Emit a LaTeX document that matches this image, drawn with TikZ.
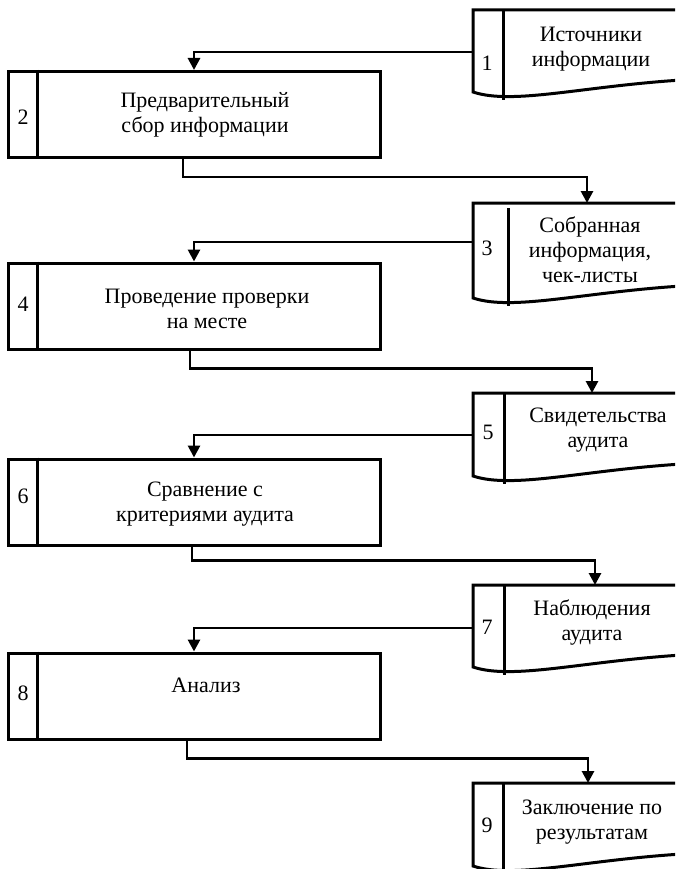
\documentclass[tikz,border=0pt]{standalone}
\usepackage{fontspec}
\setmainfont{Liberation Serif}
\usetikzlibrary{arrows.meta}

% Document symbol: #1 top, #2 height of left side, #3 x of the inner rule, #4 gap above the inner rule
\newcommand\DocShape[4]{%
  \draw[docline] (700,#1) -- (473,#1) -- (473,#1+#2)
    .. controls (515,#1+#2+14) and (590,#1+#2-8) .. (700,#1+#2-13);
  \draw[docline] (#3,#1+#4) -- (#3,#1+#2+8);
}

\begin{document}
\begin{tikzpicture}[x=1pt,y=-1pt,
  docline/.style={line width=3pt, line join=miter},
  procbox/.style={draw, rectangle, line width=3pt, minimum width=372pt,
    minimum height=86pt, inner sep=0pt},
  txt/.style={font=\fontsize{22}{25}\selectfont, align=center, inner sep=0pt},
  num/.style={font=\fontsize{22}{25}\selectfont, inner sep=0pt},
  conn/.style={line width=2.8pt, -{Triangle[length=12pt,width=12pt]}}]
\useasboundingbox (0,0) rectangle (675,869);
\clip (0,0) rectangle (675,869);

% process boxes
\node[procbox] (b2) at (194,114.5) {};
\node[procbox] (b4) at (194,306) {};
\node[procbox] (b6) at (194,502) {};
\node[procbox] (b8) at (194,696) {};
\foreach \b in {b2,b4,b6,b8}
  \draw[docline] ([xshift=31pt]\b.north west) -- ([xshift=31pt]\b.south west);

\node[num] (n2) at (23,117) {2};
\node[num] (n4) at (23,304) {4};
\node[num] (n6) at (23,496) {6};
\node[num] (n8) at (23,693) {8};

\node[txt] (t2) at (205,115) {Предварительный\\сбор информации};
\node[txt] (t4) at (207,309) {Проведение проверки\\на месте};
\node[txt] (t6) at (205,504) {Сравнение с\\критериями аудита};
\node[txt] (t8) at (206,685) {Анализ};

% documents
\DocShape{10}{82}{503}{0}
\DocShape{203}{95}{508}{5}
\DocShape{393}{83}{504}{0}
\DocShape{585}{82}{504}{0}
\DocShape{783}{83}{503}{0}

\node[num] (n1) at (487,63) {1};
\node[num] (n3) at (487,248) {3};
\node[num] (n5) at (488,432) {5};
\node[num] (n7) at (487,627) {7};
\node[num] (n9) at (487,825) {9};

\node[txt] (d1) at (591,49) {Источники\\информации};
\node[txt] (d3) at (590,250) {Собранная\\информация,\\чек-листы};
\node[txt] (d5) at (598,430) {Свидетельства\\аудита};
\node[txt] (d7) at (592,622) {Наблюдения\\аудита};
\node[txt] (d9) at (592,822) {Заключение по\\результатам};

% connection points on the document frames
\coordinate (d1out) at (473,52);
\coordinate (d3in) at (587,203);
\coordinate (d3out) at (473,242);
\coordinate (d5in) at (592,393);
\coordinate (d5out) at (473,435);
\coordinate (d7in) at (595,585);
\coordinate (d7out) at (473,628);
\coordinate (d9in) at (588,783);

% flow
\draw[conn] (d1out) -| (b2.north);
\draw[conn] ([xshift=-11pt]b2.south) -- ++(0,18) -| (d3in);
\draw[conn] (d3out) -| (b4.north);
\draw[conn] ([xshift=-4pt]b4.south) -- ++(0,18) -| (d5in);
\draw[conn] (d5out) -| (b6.north);
\draw[conn] ([xshift=-2pt]b6.south) -- ++(0,14) -| (d7in);
\draw[conn] (d7out) -| (b8.north);
\draw[conn] ([xshift=-7pt]b8.south) -- ++(0,18) -| (d9in);
\end{tikzpicture}
\end{document}
